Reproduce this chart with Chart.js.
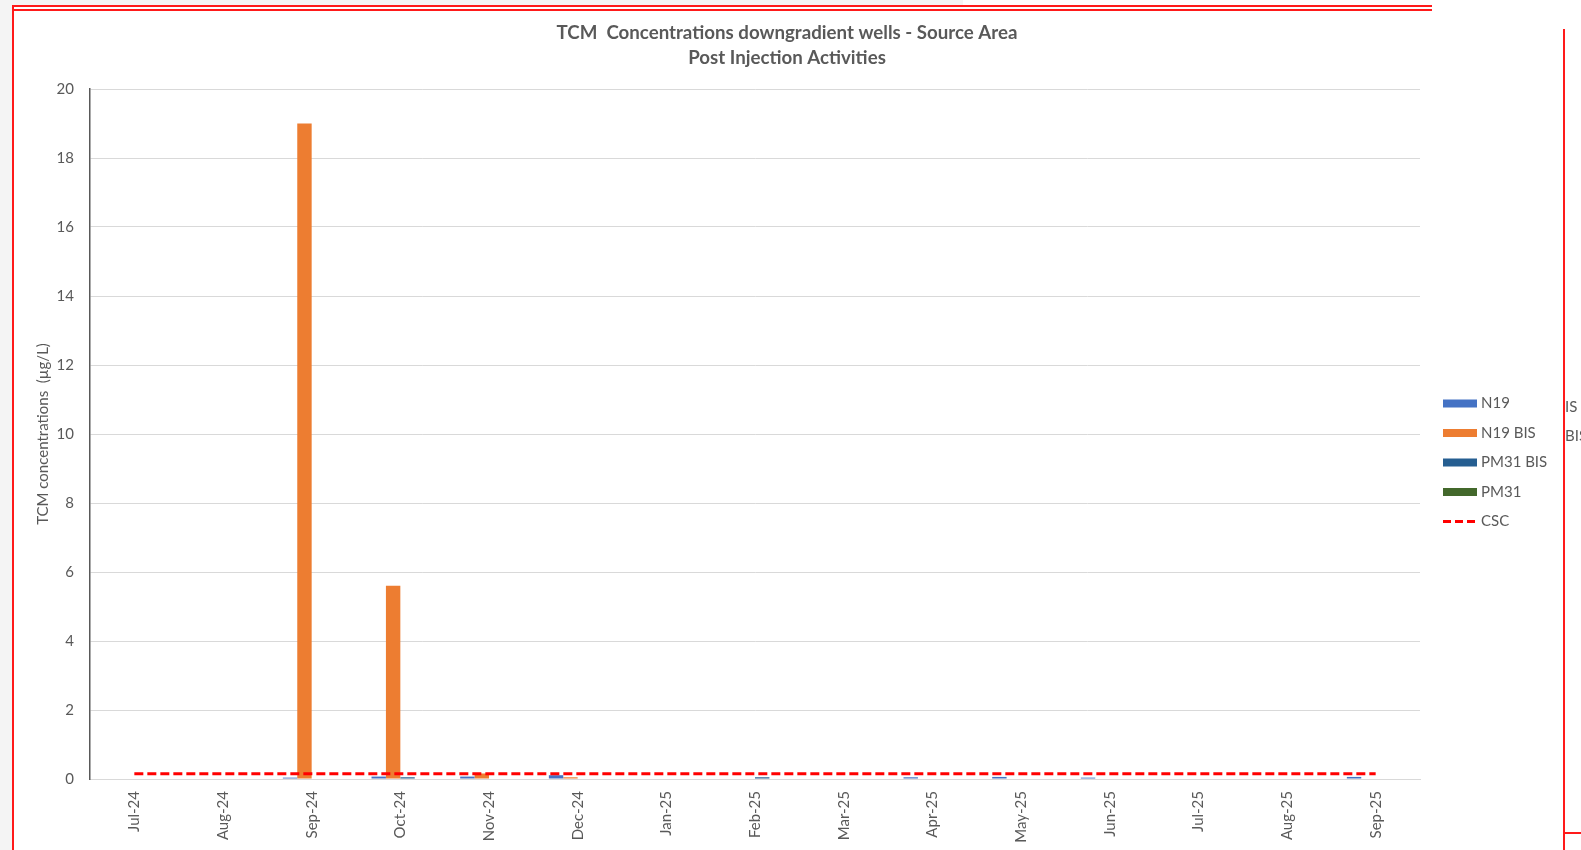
<!DOCTYPE html>
<html>
<head>
<meta charset="utf-8">
<script src="https://cdn.jsdelivr.net/npm/chart.js@4"></script>
<style>
  html, body { margin: 0; padding: 0; }
  body { width: 1581px; height: 850px; overflow: hidden; background: #ffffff; position: relative; font-family: Lato, "Open Sans", sans-serif; }
  .gray { position: absolute; background: #f4f4f4; }
  .red { position: absolute; background: #ff1a1a; }
  #c { position: absolute; left: 0; top: 0; }
  .clip { position: absolute; left: 1565px; width: 16px; overflow: hidden; white-space: nowrap; color: #595959; font: 15px Lato, sans-serif; line-height: 18px; }
</style>
</head>
<body>
<div class="gray" style="left:0;top:0;width:963px;height:5px"></div>
<div class="gray" style="left:0;top:0;width:12px;height:850px"></div>
<canvas id="c" width="1581" height="850"></canvas>
<div class="red" style="left:12px;top:5px;width:1420px;height:1.5px"></div>
<div class="red" style="left:12px;top:9px;width:1420px;height:1.5px"></div>
<div class="red" style="left:12px;top:5px;width:1.5px;height:845px"></div>
<div class="red" style="left:1563px;top:29px;width:1.5px;height:821px"></div>
<div class="red" style="left:1563px;top:832px;width:18px;height:1.5px"></div>
<div class="clip" style="top:397px">IS</div>
<div class="clip" style="top:426px">BIS</div>
<script>
// Sampling months
const months = ['Jul-24', 'Aug-24', 'Sep-24', 'Oct-24', 'Nov-24', 'Dec-24', 'Jan-25', 'Feb-25',
                'Mar-25', 'Apr-25', 'May-25', 'Jun-25', 'Jul-25', 'Aug-25', 'Sep-25'];

// TCM concentrations per well (µg/L)
const n19     = [null, null, 0.04, 0.07, 0.07, 0.11, null, null, null, 0.05, 0.06, 0.04, null, null, 0.06];
const n19Bis  = [null, null, 19,   5.6,  0.16, 0.05, null, null, null, null, null, null, null, null, null];
const pm31Bis = [null, null, null, 0.05, null, null, null, 0.05, null, null, null, null, null, null, null];
const pm31    = [null, null, null, null, null, null, null, null, null, null, null, null, null, null, null];

// Regulatory threshold (CSC)
const csc = [0.15, 0.15, 0.15, 0.15, 0.15, 0.15, 0.15, 0.15, 0.15, 0.15, 0.15, 0.15, 0.15, 0.15, 0.15];

// Axis ticks
const yTicks = ['0', '2', '4', '6', '8', '10', '12', '14', '16', '18', '20'];

const titleLines = ['TCM  Concentrations downgradient wells - Source Area', 'Post Injection Activities'];
const yTitle = 'TCM concentrations  (µg/L)';

const TEXT = '#595959';
const FONT = 'Lato, "Open Sans", sans-serif';

const titlePlugin = {
  id: 'twoLineTitle',
  afterDraw(chart) {
    const ctx = chart.ctx;
    ctx.save();
    ctx.fillStyle = TEXT;
    ctx.font = 'bold 18.7px ' + FONT;
    ctx.textAlign = 'center';
    ctx.textBaseline = 'middle';
    ctx.fillText(titleLines[0], 787, 33);
    ctx.fillText(titleLines[1], 787, 58);
    ctx.restore();
  }
};

const legendPlugin = {
  id: 'sideLegend',
  afterDraw(chart) {
    const ctx = chart.ctx;
    const x0 = 1443, w = 34, y0 = 403.5, step = 29.5;
    ctx.save();
    ctx.font = '15px ' + FONT;
    ctx.textBaseline = 'middle';
    ctx.textAlign = 'left';
    chart.data.datasets.forEach((ds, i) => {
      const y = y0 + i * step;
      if (ds.type === 'line') {
        ctx.strokeStyle = ds.borderColor;
        ctx.lineWidth = 3;
        ctx.setLineDash([8, 4]);
        ctx.beginPath();
        ctx.moveTo(x0, y);
        ctx.lineTo(x0 + w, y);
        ctx.stroke();
        ctx.setLineDash([]);
      } else {
        ctx.fillStyle = ds.backgroundColor;
        ctx.fillRect(x0, y - 4, w, 8);
      }
      ctx.fillStyle = TEXT;
      ctx.fillText(ds.label, x0 + w + 4, y);
    });
    ctx.restore();
  }
};

function build() {
  new Chart(document.getElementById('c'), {
    data: {
      labels: months,
      datasets: [
        { type: 'bar', label: 'N19',      data: n19,     backgroundColor: '#4472c4', order: 1 },
        { type: 'bar', label: 'N19 BIS',  data: n19Bis,  backgroundColor: '#ed7d31', order: 1 },
        { type: 'bar', label: 'PM31 BIS', data: pm31Bis, backgroundColor: '#255e91', order: 1 },
        { type: 'bar', label: 'PM31',     data: pm31,    backgroundColor: '#43682b', order: 1 },
        { type: 'line', label: 'CSC', data: csc, borderColor: '#ff0000', backgroundColor: '#ff0000',
          borderWidth: 3, borderDash: [9, 4], pointRadius: 0, fill: false, tension: 0, order: 0 }
      ]
    },
    options: {
      responsive: false,
      animation: false,
      datasets: { bar: { categoryPercentage: 0.65, barPercentage: 1.0 } },
      layout: { padding: { left: 0, top: 89, right: 161, bottom: 0 } },
      plugins: {
        legend: { display: false },
        title: { display: false },
        tooltip: { enabled: false }
      },
      scales: {
        x: {
          offset: true,
          grid: { display: false, drawTicks: false },
          border: { display: true, color: '#d9d9d9', width: 1 },
          ticks: {
            autoSkip: false, minRotation: 90, maxRotation: 90, padding: 12,
            color: TEXT, font: { family: FONT, size: 15 }
          },
          afterFit(scale) { scale.height = 71; }
        },
        y: {
          min: 0, max: 20,
          afterBuildTicks(scale) {
            scale.ticks = yTicks.map(t => ({ value: Number(t) }));
          },
          grid: { color: '#d9d9d9', lineWidth: 1, drawTicks: false },
          border: { display: true, color: '#595959', width: 1.5 },
          ticks: {
            padding: 16, color: TEXT, font: { family: FONT, size: 15 },
            callback: (v) => yTicks[yTicks.indexOf(String(v))]
          },
          title: {
            display: true, text: yTitle, color: TEXT,
            font: { family: FONT, size: 15 }, padding: { top: 34, bottom: 0 }
          },
          afterFit(scale) { scale.width = 90; }
        }
      }
    },
    plugins: [titlePlugin, legendPlugin]
  });
}

Promise.all([
  document.fonts.load('15px Lato'),
  document.fonts.load('bold 18.7px Lato')
]).then(build, build);
</script>
</body>
</html>
